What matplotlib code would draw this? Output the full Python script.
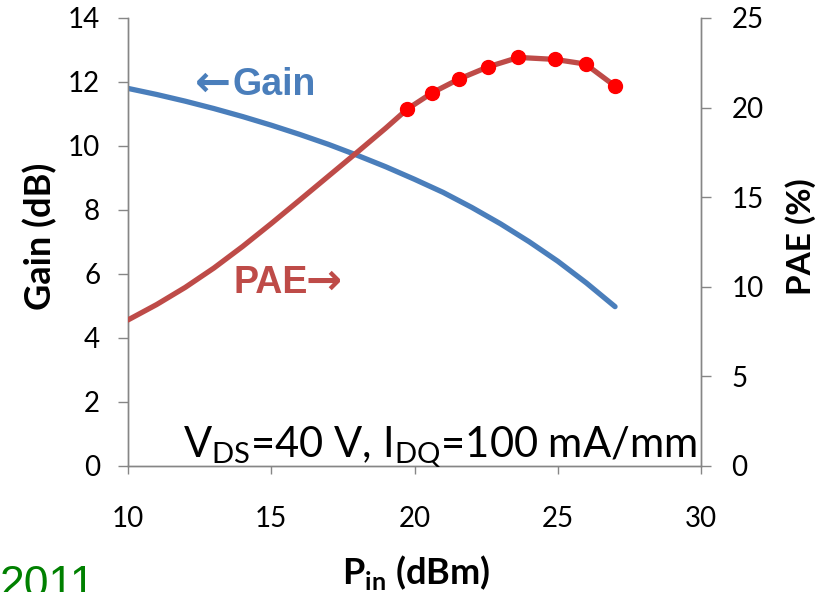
import matplotlib
matplotlib.use("Agg")
import matplotlib.pyplot as plt

# ---- data ----
pin_gain = [10, 11, 12, 13, 14, 15, 16, 17, 18, 19, 20, 21, 22, 23, 24, 25, 26, 27]
gain_db = [11.80, 11.61, 11.40, 11.17, 10.92, 10.65, 10.36, 10.05, 9.71, 9.35,
           8.96, 8.55, 8.08, 7.57, 7.01, 6.40, 5.72, 4.98]

pin_pae_line = [10, 11, 12, 13, 14, 15, 16, 17, 18, 19,
                19.75, 20.62, 21.56, 22.58, 23.63, 24.90, 25.97, 27.0]
pae_line = [8.15, 9.01, 9.97, 11.05, 12.25, 13.53, 14.85, 16.18, 17.51, 18.86,
            19.92, 20.83, 21.60, 22.28, 22.80, 22.69, 22.43, 21.2]

pin_pae_meas = [19.75, 20.62, 21.56, 22.58, 23.63, 24.90, 25.97, 27.0]
pae_meas = [19.92, 20.83, 21.60, 22.28, 22.80, 22.69, 22.43, 21.2]

x_ticks = [10, 15, 20, 25, 30]
gain_ticks = [0, 2, 4, 6, 8, 10, 12, 14]
pae_ticks = [0, 5, 10, 15, 20, 25]

BLUE = "#4a7ebb"
RED = "#be4b48"
GRID = "#868686"
TICKFONT = "Lato"
ARIAL = ["Liberation Sans", "DejaVu Sans"]

W, H = 831, 592
fig = plt.figure(figsize=(W / 100, H / 100), dpi=100)
ax = fig.add_axes([128 / W, 1 - 466 / H, (701 - 128) / W, (466 - 18) / H])
ax2 = ax.twinx()

ax.plot(pin_gain, gain_db, color=BLUE, lw=3.8, solid_capstyle="round",
        solid_joinstyle="round", zorder=3)
ax2.plot(pin_pae_line, pae_line, color=RED, lw=3.8, solid_capstyle="round",
         solid_joinstyle="round", zorder=3)
ax2.plot(pin_pae_meas, pae_meas, ls="none", marker="o", ms=10, mfc="#ff0000",
         mec="#ff0000", zorder=4)

ax.set_xlim(10, 30)
ax.set_ylim(0, 14)
ax2.set_ylim(0, 25)
ax.set_xticks(x_ticks)
ax.set_yticks(gain_ticks)
ax2.set_yticks(pae_ticks)

for a in (ax, ax2):
    a.spines["top"].set_visible(False)
    for s in ("left", "right", "bottom"):
        a.spines[s].set_color(GRID)
        a.spines[s].set_linewidth(1.0)
    a.patch.set_visible(False)

ax.tick_params(axis="y", direction="out", length=7, width=1, color=GRID, pad=13,
               labelsize=20)
ax.tick_params(axis="x", direction="out", length=6, width=1, color=GRID, pad=23,
               labelsize=20)
ax2.tick_params(axis="y", direction="out", length=7, width=1, color=GRID, pad=15,
                labelsize=20)
for lbl in ax.get_xticklabels() + ax.get_yticklabels() + ax2.get_yticklabels():
    lbl.set_fontfamily(TICKFONT)

# axis titles
fig.text(40 / W, 1 - 236 / H, "Gain (dB)", rotation=90, ha="center", va="center",
         fontsize=26, fontweight="bold", family=TICKFONT)
fig.text(801 / W, 1 - 237 / H, "PAE (%)", rotation=90, ha="center", va="center",
         fontsize=24, fontweight="bold", family=TICKFONT)
fig.text(416 / W, 1 - 572 / H, r"P$_\mathregular{in}$ (dBm)", ha="center", va="center",
         fontsize=26, fontweight="bold", family=TICKFONT)

# in-plot annotations
fig.text(195 / W, 1 - 96 / H, "\u2190", ha="left", va="baseline", color=BLUE,
         fontsize=31, fontweight="bold", family="DejaVu Sans")
fig.text(232 / W, 1 - 95 / H, "Gain", ha="left", va="baseline", color=BLUE,
         fontsize=27, fontweight="bold", family=ARIAL)
fig.text(233 / W, 1 - 293 / H, "PAE", ha="left", va="baseline", color=RED,
         fontsize=27, fontweight="bold", family=ARIAL)
fig.text(306 / W, 1 - 294 / H, "\u2192", ha="left", va="baseline", color=RED,
         fontsize=31, fontweight="bold", family="DejaVu Sans")
fig.text(697 / W, 1 - 457 / H,
         r"V$_\mathregular{DS}$=40 V, I$_\mathregular{DQ}$=100 mA/mm",
         ha="right", va="baseline", fontsize=30, family=TICKFONT)

fig.text(0 / W, 1 - 597 / H, "2011", ha="left", va="baseline", color="#008000",
         fontsize=32, family="Liberation Sans")

fig.savefig("out.png", dpi=100)
